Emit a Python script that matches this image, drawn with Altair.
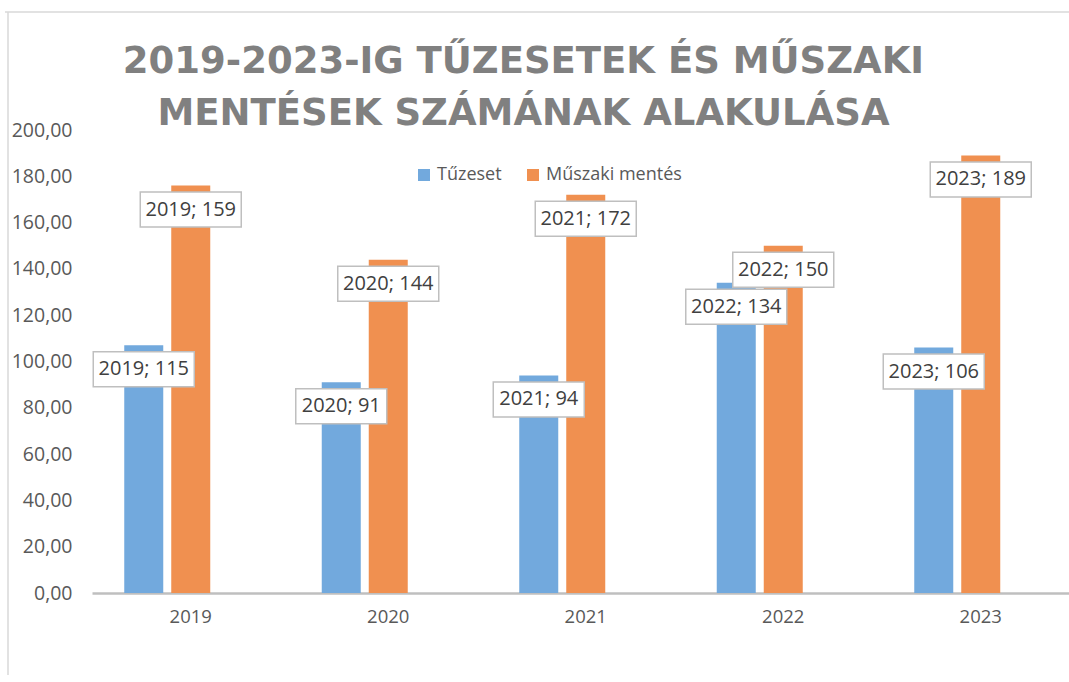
import altair as alt
import pandas as pd

# ---- adatok ----
evek = ["2019", "2020", "2021", "2022", "2023"]
sorozatok = ["Tűzeset", "Műszaki mentés"]
# oszlopmagasságok
tuzeset = [107, 91, 94, 134, 106]
muszaki = [176, 144, 172, 150, 189]
# adatfeliratok értékei
tuzeset_cimke = [115, 91, 94, 134, 106]
muszaki_cimke = [159, 144, 172, 150, 189]
y_ertekek = [0, 20, 40, 60, 80, 100, 120, 140, 160, 180, 200]

sorok = []
for i, ev in enumerate(evek):
    sorok.append({"ev": ev, "sorozat": sorozatok[0], "ertek": tuzeset[i], "cimke": tuzeset_cimke[i]})
    sorok.append({"ev": ev, "sorozat": sorozatok[1], "ertek": muszaki[i], "cimke": muszaki_cimke[i]})
df = pd.DataFrame(sorok)

FONT = "Open Sans"
BLUE = "#72a9dd"
ORANGE = "#f09050"

x_enc = alt.X(
    "ev:N",
    scale=alt.Scale(range=[0, 987.5], paddingInner=0.3266, paddingOuter=0.1633),
    axis=alt.Axis(
        title=None, labelAngle=0, ticks=False, domainColor="#bfbfbf", domainWidth=2.5,
        labelFont=FONT, labelFontSize=18.5, labelColor="#595959", labelPadding=14,
    ),
)
xoff_enc = alt.XOffset(
    "sorozat:N",
    scale=alt.Scale(domain=sorozatok + ["_"], paddingInner=0.17, paddingOuter=0),
)
y_enc = alt.Y(
    "ertek:Q",
    scale=alt.Scale(domain=[0, 200], nice=False),
    axis=alt.Axis(
        title=None, values=y_ertekek, domain=False, ticks=False, grid=False,
        labelExpr="replace(format(datum.value, '.2f'), '.', ',')",
        labelFont=FONT, labelFontSize=19.5, labelColor="#595959", labelPadding=20,
    ),
)

base = alt.Chart(df)

bars = base.mark_bar().encode(
    x=x_enc,
    xOffset=xoff_enc,
    y=y_enc,
    color=alt.Color(
        "sorozat:N",
        scale=alt.Scale(domain=sorozatok, range=[BLUE, ORANGE]),
        legend=alt.Legend(
            title=None, orient="none", legendX=323, legendY=36, direction="horizontal",
            symbolType="square", symbolSize=144, symbolStrokeWidth=0,
            labelFont=FONT, labelFontSize=18, labelColor="#595959",
            columnPadding=22, labelOffset=4,
        ),
    ),
)

box_long = "M-1,-0.3465L1,-0.3465L1,0.3465L-1,0.3465Z"
box_short = "M-0.901,-0.3465L0.901,-0.3465L0.901,0.3465L-0.901,0.3465Z"

lab = base.transform_calculate(
    felirat="datum.ev + '; ' + datum.cimke",
).transform_calculate(
    doboz="length(datum.felirat) > 8 ? 'hosszu' : 'rovid'"
)

boxes = lab.mark_point(
    filled=True, fill="white", stroke="#bfbfbf", strokeWidth=1.5, opacity=1,
    size=10201, yOffset=24,
).encode(
    x=x_enc, xOffset=xoff_enc, y=y_enc,
    shape=alt.Shape("doboz:N", scale=alt.Scale(domain=["hosszu", "rovid"], range=[box_long, box_short]), legend=None),
)

texts = lab.mark_text(
    font=FONT, fontSize=20, color="#404040", baseline="middle", align="center", yOffset=24,
).encode(
    x=x_enc, xOffset=xoff_enc, y=y_enc, text="felirat:N",
)

one = alt.Data(values=[{}])
border_top = alt.Chart(one).mark_rule(color="#d9d9d9", strokeWidth=1.5).encode(
    x=alt.value(-87), x2=alt.value(1000), y=alt.value(-118)
)
border_left = alt.Chart(one).mark_rule(color="#d9d9d9", strokeWidth=1.5).encode(
    x=alt.value(-84), y=alt.value(-118), y2=alt.value(560)
)

chart = alt.layer(border_top, border_left, bars, boxes, texts).properties(
    width=977,
    height=463,
    background="white",
    padding={"left": 92, "top": 130, "right": 0, "bottom": 82},
    autosize=alt.AutoSizeParams(type="none"),
    title=alt.Title(
        ["2019-2023-IG TŰZESETEK ÉS MŰSZAKI", "MENTÉSEK SZÁMÁNAK ALAKULÁSA"],
        font="DejaVu Sans", fontSize=37, fontWeight="bold", color="#808080",
        lineHeight=52, anchor="middle", dx=-57, offset=-122,
    ),
).configure_view(stroke="transparent", strokeWidth=0)

chart.save("out.html", embed_options={"renderer": "svg", "actions": False})
